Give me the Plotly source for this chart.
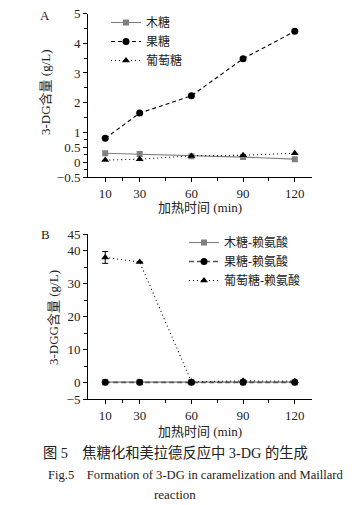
import plotly.graph_objects as go

# ---- data ----
times = [10, 30, 60, 90, 120]
xtick_major = [10, 30, 60, 90, 120]
xtick_minor = [20, 45, 75, 105]

# Panel A: caramelization (g/L)
a_xylose = [0.30, 0.27, 0.20, 0.17, 0.10]
a_fructose = [0.80, 1.65, 2.23, 3.48, 4.40]
a_glucose = [0.07, 0.10, 0.21, 0.23, 0.30]
a_names = ["木糖", "果糖", "葡萄糖"]
a_yticks = [-0.5, 0, 0.5, 1, 2, 3, 4, 5]
a_yminor = [-0.25, 0.25, 0.75, 1.5, 2.5, 3.5, 4.5]

# Panel B: Maillard reaction (g/L)
b_xylose = [0.10, 0.10, 0.10, 0.10, 0.10]
b_fructose = [0.05, 0.05, 0.05, 0.05, 0.05]
b_glucose = [37.9, 36.5, 0.2, 0.5, 0.4]
b_glucose_err = [1.8, 0, 0, 0, 0]
b_names = ["木糖-赖氨酸", "果糖-赖氨酸", "葡萄糖-赖氨酸"]
b_yticks = [-5, 0, 10, 20, 30, 40, 45]
b_yminor = [5, 15, 25, 35]

SERIF = "Liberation Serif, Noto Sans CJK SC, serif"
GRAY = "#7f7f7f"

# page has an 8px body margin: figure is drawn at (8, 8)
OFF = 8
W, H = 356 - OFF, 505 - OFF


def px(x):
    return (x - OFF) / W


def py(y):
    return 1 - (y - OFF) / H


fig = go.Figure()

styles = [
    dict(line=dict(color=GRAY, width=1.1, dash="solid"),
         marker=dict(symbol="square", size=6, color=GRAY)),
    dict(line=dict(color="black", width=1.1, dash="4px,3px"),
         marker=dict(symbol="circle", size=7, color="black")),
    dict(line=dict(color="black", width=1.1, dash="1px,3px"),
         marker=dict(symbol="triangle-up", size=7, color="black")),
]

for name, ys, st in zip(a_names, [a_xylose, a_fructose, a_glucose], styles):
    fig.add_trace(go.Scatter(x=times, y=ys, name=name, mode="lines+markers",
                             line=st["line"], marker=st["marker"],
                             xaxis="x", yaxis="y", legend="legend"))

for i, (name, ys, st) in enumerate(zip(b_names, [b_xylose, b_fructose, b_glucose], styles)):
    kw = {}
    if i == 2:
        kw["error_y"] = dict(type="data", array=b_glucose_err, color="black",
                             thickness=1, width=3)
    line = dict(st["line"])
    if i == 1:
        line = dict(color="#555555", width=1.6, dash="5px,3px")
    fig.add_trace(go.Scatter(x=times, y=ys, name=name, mode="lines+markers",
                             line=line, marker=st["marker"],
                             xaxis="x2", yaxis="y2", legend="legend2", **kw))

xdom = [px(88), px(312)]
ya_dom = [py(177), py(13.5)]
yb_dom = [py(399), py(234)]


def xaxis_cfg(anchor):
    return dict(domain=xdom, range=[0, 130], anchor=anchor, automargin=False,
                tickmode="array", tickvals=xtick_major,
                ticktext=[str(v) for v in xtick_major],
                showline=True, linecolor="black", linewidth=1,
                ticks="outside", ticklen=4, tickcolor="black",
                minor=dict(tickvals=xtick_minor, ticks="outside", ticklen=3,
                           tickcolor="black"),
                showgrid=False, zeroline=False, ticklabeloverflow="allow",
                tickfont=dict(family=SERIF, size=13, color="#222"))


def yaxis_cfg(anchor, dom, rng, ticks, minor):
    return dict(domain=dom, range=rng, anchor=anchor, automargin=False,
                tickmode="array", tickvals=ticks,
                ticktext=[("−" + str(abs(v))) if v < 0 else str(v) for v in ticks],
                showline=True, linecolor="black", linewidth=1,
                ticks="outside", ticklen=4, tickcolor="black",
                minor=dict(tickvals=minor, ticks="outside", ticklen=3,
                           tickcolor="black"),
                showgrid=False, zeroline=False, ticklabeloverflow="allow",
                tickfont=dict(family=SERIF, size=13, color="#222"))


fig.update_layout(
    width=W, height=H,
    margin=dict(l=0, r=0, t=0, b=0, autoexpand=False),
    plot_bgcolor="white", paper_bgcolor="white",
    font=dict(family=SERIF, color="#222"),
    xaxis=xaxis_cfg("y"),
    yaxis=yaxis_cfg("x", ya_dom, [-0.5, 5], a_yticks, a_yminor),
    xaxis2=xaxis_cfg("y2"),
    yaxis2=yaxis_cfg("x2", yb_dom, [-5, 45], b_yticks, b_yminor),
    legend=dict(x=px(106), y=py(8), xanchor="left", yanchor="top",
                bgcolor="rgba(0,0,0,0)", font=dict(family=SERIF, size=12),
                tracegroupgap=0, itemwidth=30),
    legend2=dict(x=px(184), y=py(228), xanchor="left", yanchor="top",
                 bgcolor="rgba(0,0,0,0)", font=dict(family=SERIF, size=12),
                 tracegroupgap=0, itemwidth=30),
    showlegend=True,
)

annotations = [
    dict(text="A", x=45, y=16, size=13),
    dict(text="B", x=45, y=234, size=13),
    dict(text="加热时间 (min)", x=200, y=207, size=13),
    dict(text="加热时间 (min)", x=200, y=431, size=13),
    dict(text="图 5　焦糖化和美拉德反应中 3-DG 的生成", x=175, y=452, size=14.3),
    dict(text="Fig.5　Formation of 3-DG in caramelization and Maillard", x=196, y=475, size=12.6),
    dict(text="reaction", x=175, y=494, size=13),
]
for a in annotations:
    fig.add_annotation(text=a["text"], x=px(a["x"]), y=py(a["y"]),
                       xref="paper", yref="paper", showarrow=False,
                       xanchor="center", yanchor="middle",
                       font=dict(family=SERIF, size=a["size"], color="#222"))

fig.add_annotation(text="3-DG含量 (g/L)", x=px(45), y=py(92),
                   xref="paper", yref="paper", showarrow=False, textangle=-90,
                   xanchor="center", yanchor="middle",
                   font=dict(family=SERIF, size=13, color="#222"))
fig.add_annotation(text="3-DGG含量 (g/L)", x=px(53), y=py(318),
                   xref="paper", yref="paper", showarrow=False, textangle=-90,
                   xanchor="center", yanchor="middle",
                   font=dict(family=SERIF, size=13, color="#222"))

fig.write_html("out.html")
